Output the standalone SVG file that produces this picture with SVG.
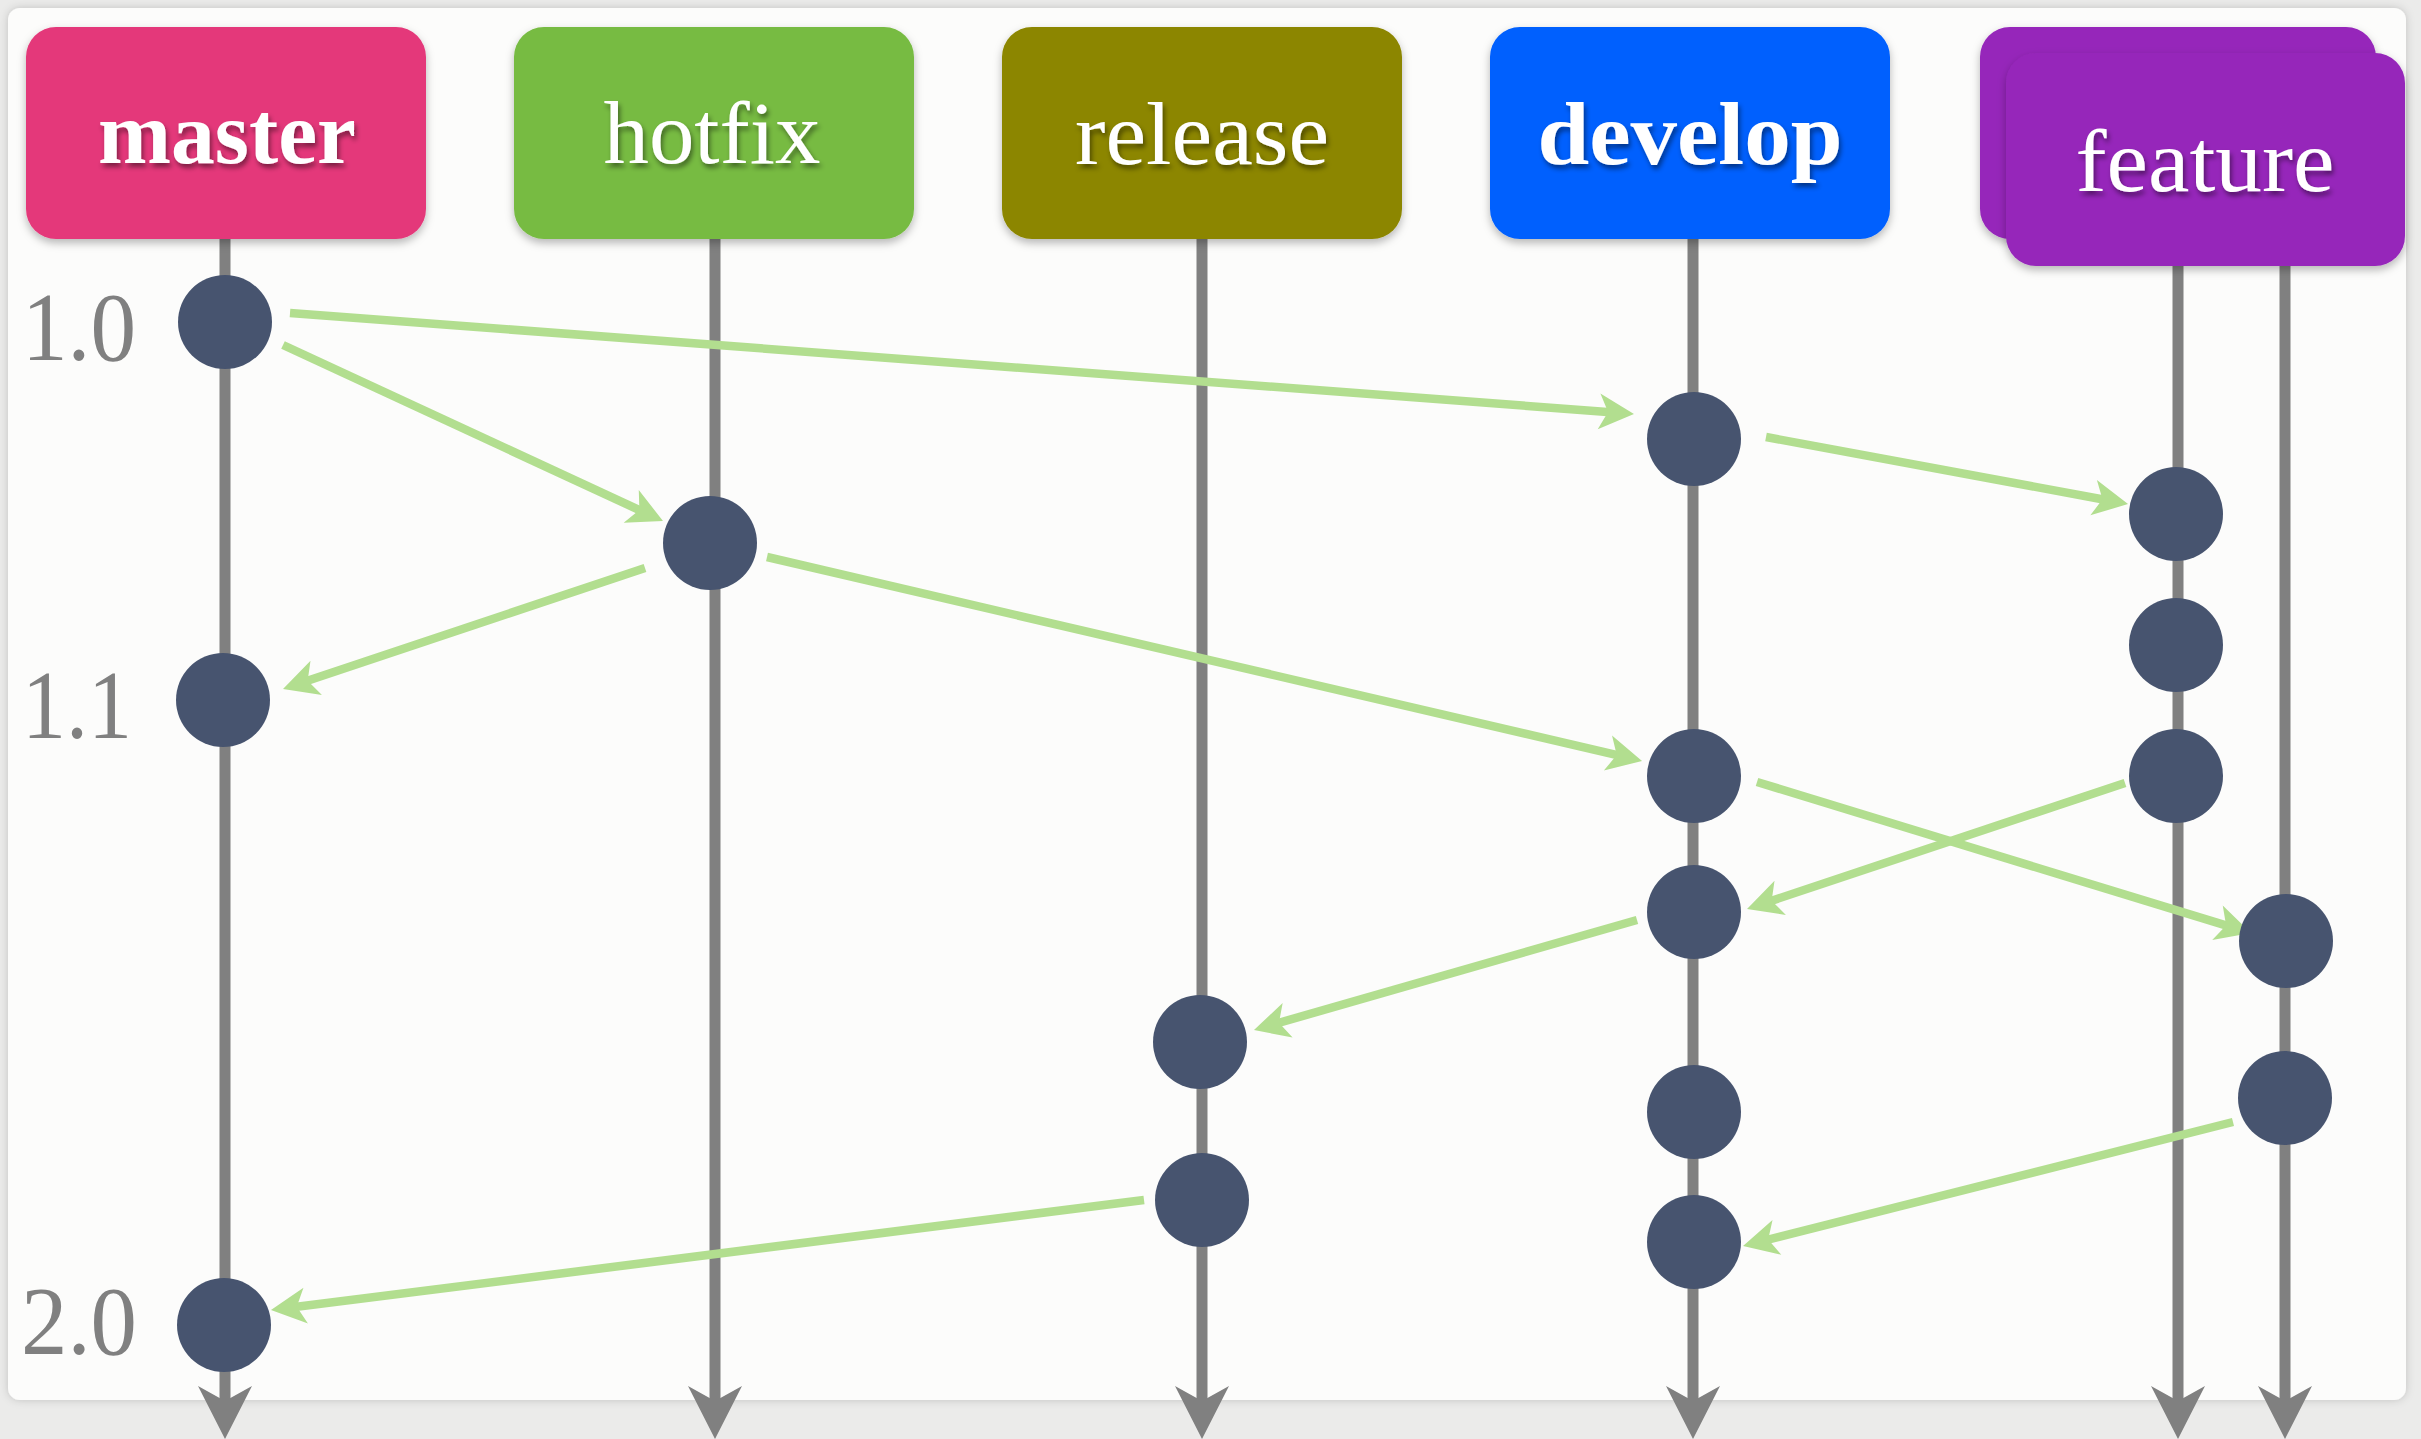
<svg xmlns="http://www.w3.org/2000/svg" width="2421" height="1439" viewBox="0 0 2421 1439">
<defs>
<style>
.lane{stroke:#808080;stroke-width:11;fill:none}
.lanehead{fill:#808080}
.conn{stroke:#b2de8f;stroke-width:8.5;fill:none}
.commit{fill:#47546f}
.label{font-family:"Liberation Serif","DejaVu Serif",serif;font-size:88px;fill:#ffffff;text-anchor:middle}
.bold{font-weight:bold}
.ver{font-family:"Liberation Serif","DejaVu Serif",serif;font-size:98px;fill:#808080}
</style>
<filter id="boxshadow" x="-10%" y="-10%" width="120%" height="130%">
<feDropShadow dx="0" dy="4" stdDeviation="4" flood-color="#000" flood-opacity="0.28"/>
</filter>
<filter id="textshadow" x="-10%" y="-20%" width="120%" height="150%">
<feDropShadow dx="2" dy="4" stdDeviation="2.5" flood-color="#000" flood-opacity="0.45"/>
</filter>
<filter id="panelshadow" x="-2%" y="-2%" width="104%" height="104%">
<feDropShadow dx="0" dy="0" stdDeviation="4" flood-color="#000" flood-opacity="0.18"/>
</filter>
<marker id="garrow" markerUnits="userSpaceOnUse" markerWidth="60" markerHeight="60" refX="0" refY="0" viewBox="-30 -30 60 60" orient="auto" overflow="visible">
<path d="M10,0 L-25,-18 L-16,0 L-25,18 Z" fill="#b2de8f"/>
</marker>
</defs>
<rect x="0" y="0" width="2421" height="1439" fill="#ebebea"/>
<rect x="8" y="8" width="2398" height="1392" rx="12" fill="#fcfcfb" filter="url(#panelshadow)"/>

<g id="lanes">
<line class="lane" x1="225" y1="239" x2="225" y2="1405"/>
<line class="lane" x1="715" y1="239" x2="715" y2="1405"/>
<line class="lane" x1="1202" y1="239" x2="1202" y2="1405"/>
<line class="lane" x1="1693" y1="239" x2="1693" y2="1405"/>
<line class="lane" x1="2178" y1="266" x2="2178" y2="1405"/>
<line class="lane" x1="2285" y1="266" x2="2285" y2="1405"/>
<path class="lanehead" d="M225,1439 L198,1386 L225,1401 L252,1386 Z"/>
<path class="lanehead" d="M715,1439 L688,1386 L715,1401 L742,1386 Z"/>
<path class="lanehead" d="M1202,1439 L1175,1386 L1202,1401 L1229,1386 Z"/>
<path class="lanehead" d="M1693,1439 L1666,1386 L1693,1401 L1720,1386 Z"/>
<path class="lanehead" d="M2178,1439 L2151,1386 L2178,1401 L2205,1386 Z"/>
<path class="lanehead" d="M2285,1439 L2258,1386 L2285,1401 L2312,1386 Z"/>
</g>

<g id="connectors">
<line class="conn" x1="290" y1="313" x2="1624" y2="413.2" marker-end="url(#garrow)"/>
<line class="conn" x1="283" y1="345" x2="653.9" y2="516.8" marker-end="url(#garrow)"/>
<line class="conn" x1="645" y1="568" x2="292.5" y2="685.8" marker-end="url(#garrow)"/>
<line class="conn" x1="767" y1="557" x2="1632.3" y2="758.7" marker-end="url(#garrow)"/>
<line class="conn" x1="1766" y1="437" x2="2118.2" y2="502.2" marker-end="url(#garrow)"/>
<line class="conn" x1="1757" y1="782" x2="2241.4" y2="930.1" marker-end="url(#garrow)"/>
<line class="conn" x1="2125" y1="783" x2="1756.5" y2="905.8" marker-end="url(#garrow)"/>
<line class="conn" x1="1637" y1="920" x2="1263.6" y2="1027.2" marker-end="url(#garrow)"/>
<line class="conn" x1="2233" y1="1122" x2="1752.7" y2="1243.5" marker-end="url(#garrow)"/>
<line class="conn" x1="1144" y1="1200" x2="280.9" y2="1308.8" marker-end="url(#garrow)"/>
</g>

<g id="commits">
<g id="c-master-1-0"><circle class="commit" cx="225" cy="322" r="47"/></g>
<g id="c-hotfix-1"><circle class="commit" cx="710" cy="543" r="47"/></g>
<g id="c-master-1-1"><circle class="commit" cx="223" cy="700" r="47"/></g>
<g id="c-develop-1"><circle class="commit" cx="1694" cy="439" r="47"/></g>
<g id="c-feature1-1"><circle class="commit" cx="2176" cy="514" r="47"/></g>
<g id="c-feature1-2"><circle class="commit" cx="2176" cy="645" r="47"/></g>
<g id="c-feature1-3"><circle class="commit" cx="2176" cy="776" r="47"/></g>
<g id="c-develop-2"><circle class="commit" cx="1694" cy="776" r="47"/></g>
<g id="c-develop-3"><circle class="commit" cx="1694" cy="912" r="47"/></g>
<g id="c-feature2-1"><circle class="commit" cx="2286" cy="941" r="47"/></g>
<g id="c-release-1"><circle class="commit" cx="1200" cy="1042" r="47"/></g>
<g id="c-develop-4"><circle class="commit" cx="1694" cy="1112" r="47"/></g>
<g id="c-feature2-2"><circle class="commit" cx="2285" cy="1098" r="47"/></g>
<g id="c-release-2"><circle class="commit" cx="1202" cy="1200" r="47"/></g>
<g id="c-develop-5"><circle class="commit" cx="1694" cy="1242" r="47"/></g>
<g id="c-master-2-0"><circle class="commit" cx="224" cy="1325" r="47"/></g>
</g>

<g id="versions">
<text class="ver" x="22" y="360" textLength="114" lengthAdjust="spacingAndGlyphs">1.0</text>
<text class="ver" x="22" y="738" textLength="110" lengthAdjust="spacingAndGlyphs">1.1</text>
<text class="ver" x="21" y="1354" textLength="116" lengthAdjust="spacingAndGlyphs">2.0</text>
</g>

<g id="branch-master">
<rect x="26" y="27" width="400" height="212" rx="30" fill="#e4397a" filter="url(#boxshadow)"/>
<text class="label bold" x="227" y="163" textLength="258" lengthAdjust="spacingAndGlyphs" filter="url(#textshadow)">master</text>
</g>
<g id="branch-hotfix">
<rect x="514" y="27" width="400" height="212" rx="30" fill="#77bb43" filter="url(#boxshadow)"/>
<text class="label" x="712" y="163" textLength="217" lengthAdjust="spacingAndGlyphs" filter="url(#textshadow)">hotfix</text>
</g>
<g id="branch-release">
<rect x="1002" y="27" width="400" height="212" rx="30" fill="#8c8600" filter="url(#boxshadow)"/>
<text class="label" x="1202" y="164" textLength="254" lengthAdjust="spacingAndGlyphs" filter="url(#textshadow)">release</text>
</g>
<g id="branch-develop">
<rect x="1490" y="27" width="400" height="212" rx="30" fill="#0060fe" filter="url(#boxshadow)"/>
<text class="label bold" x="1690" y="164" textLength="305" lengthAdjust="spacingAndGlyphs" filter="url(#textshadow)">develop</text>
</g>
<g id="branch-feature">
<rect x="1980" y="27" width="396" height="212" rx="30" fill="#9627ba" filter="url(#boxshadow)"/>
<rect x="2006" y="53" width="399" height="213" rx="30" fill="#9627ba" filter="url(#boxshadow)"/>
<text class="label" x="2205" y="191" textLength="259" lengthAdjust="spacingAndGlyphs" filter="url(#textshadow)">feature</text>
</g>
</svg>
